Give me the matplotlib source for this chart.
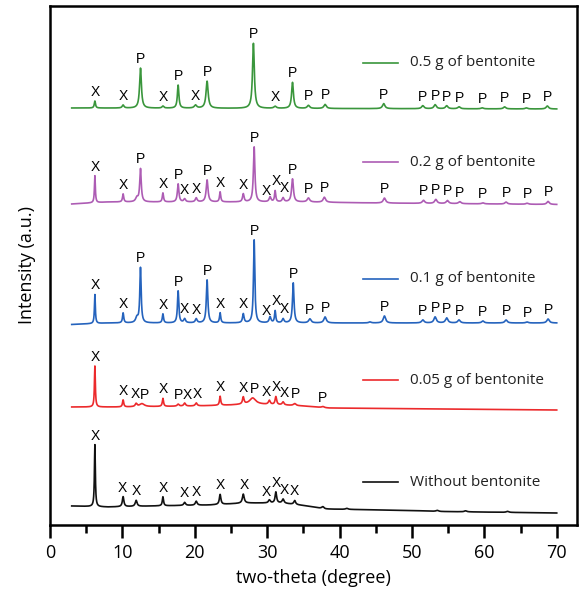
import numpy as np
import matplotlib.pyplot as plt

plt.rcParams['font.family'] = ['Open Sans', 'DejaVu Sans']

# sample names (legend labels), top to bottom
samples = ['0.5 g of bentonite', '0.2 g of bentonite', '0.1 g of bentonite',
           '0.05 g of bentonite', 'Without bentonite']
colors = ['#3a963c', '#ad5cb4', '#2563bd', '#ec2a2c', '#111111']

# vertical offsets of each pattern (stacking)
offsets = [417, 323, 202, 118, 18]

# background anchor points (two-theta, intensity)
bg_05 = [(3, 0), (70, -1)]
bg_02 = [(3, -2), (8, 0), (35, 0), (45, -1), (70, -2.5)]
bg_01 = [(3, -1.5), (8, 0), (70, 0)]
bg_005 = [(3, 0), (10, 0), (20, 1), (25, 2), (28, 3), (32, 2), (35, 1), (38.5, -1), (70, -3)]
bg_00 = [(3, 1), (8, 0), (14, 1), (22, 2), (27, 4), (32, 4), (35, 1.5), (38, -2),
         (50, -3.5), (54, -4.5), (70, -6)]

# peaks: positions (deg), heights, widths (FWHM, deg)
pos_05 = [6.2, 10.1, 12.5, 15.6, 17.7, 20.1, 21.7, 28.1, 31.1, 33.5, 35.7, 38.0,
          46.1, 51.5, 53.2, 54.8, 56.5, 59.7, 62.8, 65.8, 68.7]
hgt_05 = [7, 3, 40, 2, 23, 3, 27, 65, 2, 26, 3, 4, 5, 3, 4, 3, 2, 1, 2, 1, 3]
wid_05 = [0.2, 0.3, 0.3, 0.3, 0.25, 0.4, 0.35, 0.3, 0.4, 0.3, 0.4, 0.4,
          0.4, 0.4, 0.4, 0.4, 0.4, 0.4, 0.4, 0.4, 0.4]

pos_02 = [6.2, 10.1, 12.0, 12.5, 15.6, 17.7, 18.6, 20.2, 21.7, 23.5, 26.7, 28.2,
          30.4, 31.1, 32.2, 33.5, 35.7, 37.9, 46.2, 51.6, 53.3, 54.9, 56.6, 59.8,
          63.0, 65.9, 68.8]
hgt_02 = [27, 8, 4, 33, 9, 18, 3, 4, 22, 10, 8, 55, 5, 11, 4, 23, 4, 5, 5, 3, 4,
          3, 2, 1, 2, 1, 3]
wid_02 = [0.15, 0.2, 0.4, 0.25, 0.2, 0.25, 0.3, 0.3, 0.3, 0.2, 0.25, 0.25,
          0.3, 0.2, 0.3, 0.3, 0.4, 0.4, 0.4, 0.4, 0.4, 0.4, 0.4, 0.4, 0.4, 0.4, 0.4]

pos_01 = [6.2, 10.1, 12.0, 12.5, 15.6, 17.7, 18.6, 20.2, 21.7, 23.5, 26.7, 28.2,
          30.4, 31.1, 32.2, 33.6, 35.9, 38.0, 44.2, 46.2, 51.5, 53.2, 54.8, 56.5,
          59.8, 63.0, 65.9, 68.8]
hgt_01 = [29, 10, 5, 55, 9, 32, 4, 4, 43, 10, 9, 83, 6, 12, 4, 40, 4, 6, 1, 7, 3,
          6, 5, 3, 2, 3, 1, 4]
wid_01 = [0.15, 0.2, 0.4, 0.22, 0.2, 0.22, 0.3, 0.3, 0.25, 0.2, 0.25, 0.22,
          0.3, 0.2, 0.3, 0.25, 0.4, 0.4, 0.4, 0.4, 0.4, 0.4, 0.4, 0.4, 0.4, 0.4,
          0.4, 0.4]

pos_005 = [6.2, 10.1, 11.9, 12.7, 15.6, 17.7, 18.6, 20.2, 23.5, 26.7, 28.0, 30.3,
           31.2, 32.2, 33.8, 37.7]
hgt_005 = [41, 7, 3, 3, 8, 2, 3, 3, 9, 7, 6, 4, 8, 3, 2, 1]
wid_005 = [0.15, 0.2, 0.3, 0.8, 0.2, 0.3, 0.3, 0.3, 0.2, 0.25, 1.0, 0.3, 0.25,
           0.3, 0.4, 0.4]

pos_00 = [6.2, 10.1, 11.9, 15.6, 18.6, 20.2, 23.5, 26.7, 30.3, 31.2, 32.2, 33.8,
          37.7, 41.0, 53.5, 57.4, 63.2]
hgt_00 = [62, 10, 6, 9, 3, 4, 10, 9, 3, 11, 4, 4, 2, 1, 1, 1, 1]
wid_00 = [0.15, 0.25, 0.3, 0.2, 0.3, 0.3, 0.25, 0.3, 0.3, 0.25, 0.3, 0.3,
          0.4, 0.4, 0.4, 0.4, 0.4]

# phase labels (X / P) above peaks
lab_05 = [(6.2, 'X'), (10.1, 'X'), (12.5, 'P'), (15.6, 'X'), (17.7, 'P'), (20.1, 'X'),
          (21.7, 'P'), (28.1, 'P'), (31.1, 'X'), (33.5, 'P'), (35.7, 'P'), (38.0, 'P'),
          (46.1, 'P'), (51.5, 'P'), (53.2, 'P'), (54.8, 'P'), (56.5, 'P'), (59.7, 'P'),
          (62.8, 'P'), (65.8, 'P'), (68.7, 'P')]
lab_02 = [(6.2, 'X'), (10.1, 'X'), (12.5, 'P'), (15.6, 'X'), (17.7, 'P'), (18.6, 'X'),
          (20.2, 'X'), (21.7, 'P'), (23.5, 'X'), (26.7, 'X'), (28.2, 'P'), (29.9, 'X'),
          (31.2, 'X'), (32.4, 'X'), (33.5, 'P'), (35.7, 'P'), (37.9, 'P'), (46.2, 'P'),
          (51.6, 'P'), (53.3, 'P'), (54.9, 'P'), (56.6, 'P'), (59.8, 'P'), (63.0, 'P'),
          (65.9, 'P'), (68.8, 'P')]
lab_01 = [(6.2, 'X'), (10.1, 'X'), (12.5, 'P'), (15.6, 'X'), (17.7, 'P'), (18.6, 'X'),
          (20.2, 'X'), (21.7, 'P'), (23.5, 'X'), (26.7, 'X'), (28.2, 'P'), (29.9, 'X'),
          (31.2, 'X'), (32.4, 'X'), (33.6, 'P'), (35.9, 'P'), (38.0, 'P'), (46.2, 'P'),
          (51.5, 'P'), (53.2, 'P'), (54.8, 'P'), (56.5, 'P'), (59.8, 'P'), (63.0, 'P'),
          (65.9, 'P'), (68.8, 'P')]
lab_005 = [(6.2, 'X'), (10.1, 'X'), (11.8, 'X'), (13.0, 'P'), (15.6, 'X'), (17.8, 'P'),
           (19.0, 'X'), (20.3, 'X'), (23.5, 'X'), (26.7, 'X'), (28.2, 'P'), (29.9, 'X'),
           (31.2, 'X'), (32.4, 'X'), (33.9, 'P'), (37.7, 'P')]
lab_00 = [(6.2, 'X'), (10.0, 'X'), (11.9, 'X'), (15.6, 'X'), (18.6, 'X'), (20.2, 'X'),
          (23.5, 'X'), (26.8, 'X'), (29.9, 'X'), (31.2, 'X'), (32.4, 'X'), (33.8, 'X')]

backgrounds = [bg_05, bg_02, bg_01, bg_005, bg_00]
peaks = [(pos_05, hgt_05, wid_05), (pos_02, hgt_02, wid_02), (pos_01, hgt_01, wid_01),
         (pos_005, hgt_005, wid_005), (pos_00, hgt_00, wid_00)]
labels = [lab_05, lab_02, lab_01, lab_005, lab_00]


def pattern(x, bg, pk):
    bx, by = zip(*bg)
    y = np.interp(x, bx, by)
    for p, h, w in zip(*pk):
        y = y + h / (1 + ((x - p) / (w / 2)) ** 2)
    return y


two_theta = np.arange(3.0, 70.001, 0.01)

fig = plt.figure(figsize=(5.79, 5.99), dpi=100)
ax = fig.add_axes([50 / 579, 1 - 525 / 599, 527 / 579, 519 / 599])

legend_y = [462, 363, 246, 145, 43]

for name, col, off, bg, pk, labs, ly in zip(samples, colors, offsets, backgrounds,
                                            peaks, labels, legend_y):
    y = pattern(two_theta, bg, pk) + off
    ax.plot(two_theta, y, color=col, lw=1.2)
    for lx, letter in labs:
        m = (two_theta > lx - 0.3) & (two_theta < lx + 0.3)
        ax.text(lx, y[m].max() + 2, letter, ha='center', va='bottom',
                fontsize=10, family=['Liberation Sans', 'DejaVu Sans'])
    ax.plot([43.2, 48.1], [ly, ly], color=col, lw=1.2)
    ax.text(49.7, ly, name, va='center', ha='left', fontsize=11, color='#222222')

ax.set_xlim(0, 72.8)
ax.set_ylim(0, 519)
ax.set_yticks([])
ax.set_xticks(np.arange(0, 71, 10))
ax.set_xticks(np.arange(5, 71, 10), minor=True)
for s in ax.spines.values():
    s.set_linewidth(1.8)
ax.tick_params(axis='x', which='major', length=9, width=1.8, labelsize=13, pad=5)
ax.tick_params(axis='x', which='minor', length=5.5, width=1.8)
ax.set_xlabel('two-theta (degree)', fontsize=13, labelpad=5)
ax.set_ylabel('Intensity (a.u.)', fontsize=13, labelpad=10)

fig.savefig('out.png', dpi=100)
